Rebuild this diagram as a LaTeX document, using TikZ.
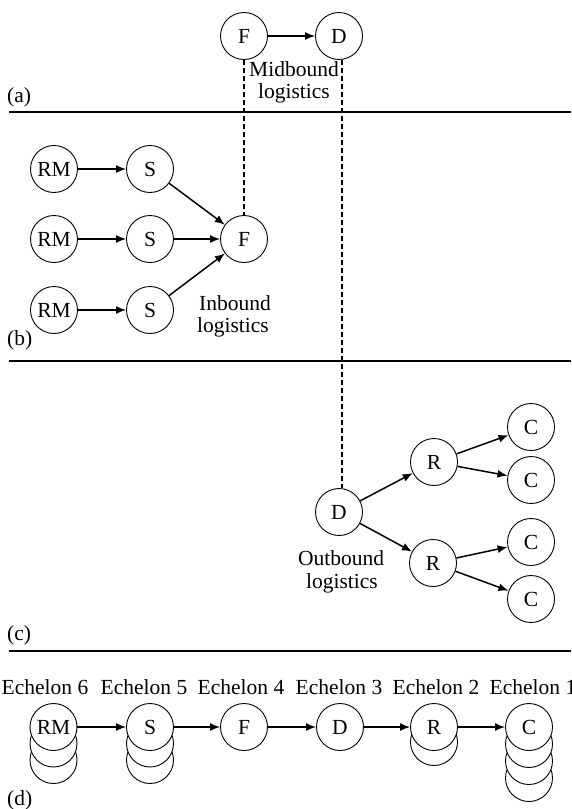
\documentclass[tikz,border=0pt]{standalone}
\usepackage{fontspec}
\setmainfont{Liberation Serif}
\usetikzlibrary{arrows.meta}
\begin{document}
\begin{tikzpicture}[x=1pt,y=-1pt,
  every node/.style={font=\fontsize{21.5}{25}\selectfont},
  site/.style={circle,draw,line width=0.9pt,minimum size=47pt,inner sep=0pt,fill=white},
  flow/.style={line width=1.5pt,-{Latex[length=10pt,width=8pt]}},
  link/.style={line width=1.4pt,dash pattern=on 5pt off 3pt},
  divider/.style={line width=1.1pt},
  caption/.style={anchor=west,inner sep=0pt},
  note/.style={align=center,inner sep=0pt}]
\useasboundingbox (0,0) rectangle (571,809);

% ---- (a) midbound logistics ----
\node[site] (aF) at (244,36) {F};
\node[site] (aD) at (339,36) {D};
\draw[flow] (aF) -- (aD);
\node[note] (mid1) at (294,69) {Midbound};
\node[note] (mid2) at (294,93) {logistics};
\node[caption] (capA) at (7,97) {(a)};
\coordinate (dA1) at (9,112);
\coordinate (dA2) at (571,112);
\draw[divider] (dA1) -- (dA2);

% ---- (b) inbound logistics ----
\node[site] (rm1) at (54,169) {RM};
\node[site] (rm2) at (54,239) {RM};
\node[site] (rm3) at (54,310) {RM};
\node[site] (s1) at (150,169) {S};
\node[site] (s2) at (150,239) {S};
\node[site] (s3) at (150,310) {S};
\node[site] (bF) at (244,239) {F};
\draw[flow] (rm1) -- (s1);
\draw[flow] (rm2) -- (s2);
\draw[flow] (rm3) -- (s3);
\draw[flow] (s1) -- (bF);
\draw[flow] (s2) -- (bF);
\draw[flow] (s3) -- (bF);
\node[note] (in1) at (235,303) {Inbound};
\node[note] (in2) at (233,327) {logistics};
\node[caption] (capB) at (7,340) {(b)};
\coordinate (dB1) at (9,361);
\coordinate (dB2) at (571,361);
\draw[divider] (dB1) -- (dB2);

% ---- (c) outbound logistics ----
\node[site] (cD) at (339,512) {D};
\node[site] (r1) at (434,462) {R};
\node[site] (r2) at (433,563) {R};
\node[site] (c1) at (531,427) {C};
\node[site] (c2) at (531,480) {C};
\node[site] (c3) at (531,542) {C};
\node[site] (c4) at (531,599) {C};
\draw[flow] (cD) -- (r1);
\draw[flow] (cD) -- (r2);
\draw[flow] (r1) -- (c1);
\draw[flow] (r1) -- (c2);
\draw[flow] (r2) -- (c3);
\draw[flow] (r2) -- (c4);
\node[note] (out1) at (341,558) {Outbound};
\node[note] (out2) at (342,583) {logistics};
\node[caption] (capC) at (7,635) {(c)};
\coordinate (dC1) at (9,651);
\coordinate (dC2) at (571,651);
\draw[divider] (dC1) -- (dC2);

% links between the views of the same facility
\draw[link] (aF) -- (bF);
\draw[link] ([xshift=3pt]aD.south) -- ([xshift=3pt]cD.north);

% ---- (d) echelons ----
\node[note] (l6) at (45,687) {Echelon 6};
\node[note] (l5) at (144,687) {Echelon 5};
\node[note] (l4) at (241,687) {Echelon 4};
\node[note] (l3) at (339,687) {Echelon 3};
\node[note] (l2) at (436,687) {Echelon 2};
\node[note] (l1) at (533,687) {Echelon 1};

\node[site] (e6c) at (53.5,760) {};
\node[site] (e6b) at (53.5,743.5) {};
\node[site] (e6) at (53.5,727) {RM};
\node[site] (e5c) at (150,760) {};
\node[site] (e5b) at (150,743.5) {};
\node[site] (e5) at (150,727) {S};
\node[site] (e4) at (244,727) {F};
\node[site] (e3) at (340,727) {D};
\node[site] (e2b) at (434,742) {};
\node[site] (e2) at (434,727) {R};
\node[site] (e1d) at (529,778) {};
\node[site] (e1c) at (529,761) {};
\node[site] (e1b) at (529,744) {};
\node[site] (e1) at (529,727) {C};
\draw[flow] (e6) -- (e5);
\draw[flow] (e5) -- (e4);
\draw[flow] (e4) -- (e3);
\draw[flow] (e3) -- (e2);
\draw[flow] (e2) -- (e1);
\node[caption] (capD) at (7,800) {(d)};
\end{tikzpicture}
\end{document}
